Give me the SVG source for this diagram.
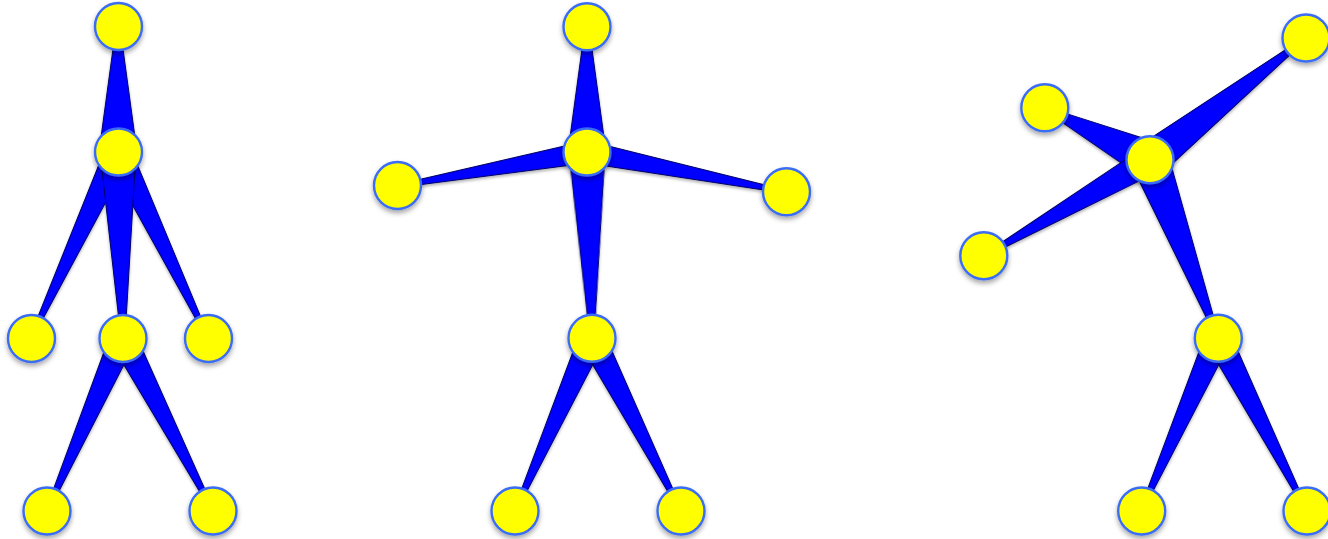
<svg xmlns="http://www.w3.org/2000/svg" width="1328" height="539" viewBox="0 0 1328 539">
<defs>
<filter id="shadow" x="-30%" y="-30%" width="160%" height="160%">
<feDropShadow dx="0" dy="3" stdDeviation="2.5" flood-color="#000" flood-opacity="0.35"/>
</filter>
<filter id="bshadow" x="-10%" y="-10%" width="120%" height="120%">
<feDropShadow dx="0" dy="2" stdDeviation="1.5" flood-color="#000" flood-opacity="0.3"/>
</filter>
</defs>
<style>
.bone{fill:#0000ff;stroke:#00006a;stroke-width:1;stroke-linejoin:round}
.node circle{fill:#ffff00;stroke:#3a6cf4;stroke-width:2.4;filter:url(#shadow)}
</style>
<rect width="1328" height="539" fill="#ffffff"/>
<g id="connectors" filter="url(#bshadow)">
<!-- figure 1 -->
<polygon class="bone" transform="translate(118,152) rotate(-90)" points="0,-19 125,-2 125,2 0,19"/>
<polygon class="bone" transform="translate(118,152) rotate(115.07)" points="0,-13 205.3,-1.5 205.3,1.5 0,13"/>
<polygon class="bone" transform="translate(118,152) rotate(64.18)" points="0,-13 206.6,-1.5 206.6,1.5 0,13"/>
<polygon class="bone" transform="translate(118,152) rotate(88.46)" points="0,-18 186.1,-2 186.1,2 0,18"/>
<polygon class="bone" transform="translate(123,338) rotate(113.71)" points="0,-13 189,-1.5 189,1.5 0,13"/>
<polygon class="bone" transform="translate(123,338) rotate(62.52)" points="0,-13 195,-1.5 195,1.5 0,13"/>
<!-- figure 2 -->
<polygon class="bone" transform="translate(587,152) rotate(-90)" points="0,-19 125,-2 125,2 0,19"/>
<polygon class="bone" transform="translate(587,152) rotate(169.8)" points="0,-11 192,-1.5 192,1.5 0,11"/>
<polygon class="bone" transform="translate(587,152) rotate(11.31)" points="0,-11 204,-1.5 204,1.5 0,11"/>
<polygon class="bone" transform="translate(587,152) rotate(88.46)" points="0,-18 186.1,-2 186.1,2 0,18"/>
<polygon class="bone" transform="translate(592,338) rotate(114.0)" points="0,-13 189.4,-1.5 189.4,1.5 0,13"/>
<polygon class="bone" transform="translate(592,338) rotate(62.77)" points="0,-13 194.6,-1.5 194.6,1.5 0,13"/>
<!-- figure 3 -->
<polygon class="bone" transform="translate(1150,160) rotate(-38.03)" points="0,-18 198,-1.5 198,1.5 0,18"/>
<polygon class="bone" transform="translate(1150,160) rotate(-153.87)" points="0,-19 118.1,-1.5 118.1,1.5 0,19"/>
<polygon class="bone" transform="translate(1150,160) rotate(149.96)" points="0,-14 191.8,-1.5 191.8,1.5 0,14"/>
<polygon class="bone" transform="translate(1150,160) rotate(69.09)" points="0,-19 190.5,-1.5 190.5,1.5 0,19"/>
<polygon class="bone" transform="translate(1218,338) rotate(114.0)" points="0,-13 189.4,-1.5 189.4,1.5 0,13"/>
<polygon class="bone" transform="translate(1218,338) rotate(62.77)" points="0,-13 194.6,-1.5 194.6,1.5 0,13"/>
</g>
<!-- figure 1 nodes -->
<g id="f1-head" class="node"><circle cx="118.5" cy="26.5" r="23.5"/></g>
<g id="f1-chest" class="node"><circle cx="118.5" cy="152" r="23.5"/></g>
<g id="f1-lhand" class="node"><circle cx="31.5" cy="338.5" r="23.5"/></g>
<g id="f1-pelvis" class="node"><circle cx="123" cy="338.5" r="23.5"/></g>
<g id="f1-rhand" class="node"><circle cx="208.5" cy="338.5" r="23.5"/></g>
<g id="f1-lfoot" class="node"><circle cx="47" cy="511" r="23.5"/></g>
<g id="f1-rfoot" class="node"><circle cx="213" cy="511" r="23.5"/></g>
<!-- figure 2 nodes -->
<g id="f2-head" class="node"><circle cx="587" cy="26.7" r="23.5"/></g>
<g id="f2-chest" class="node"><circle cx="587" cy="152" r="23.5"/></g>
<g id="f2-lhand" class="node"><circle cx="397.5" cy="185.5" r="23.5"/></g>
<g id="f2-rhand" class="node"><circle cx="786.5" cy="191.7" r="23.5"/></g>
<g id="f2-pelvis" class="node"><circle cx="592" cy="338.3" r="23.5"/></g>
<g id="f2-lfoot" class="node"><circle cx="515" cy="511" r="23.5"/></g>
<g id="f2-rfoot" class="node"><circle cx="681" cy="511" r="23.5"/></g>
<!-- figure 3 nodes -->
<g id="f3-rhand" class="node"><circle cx="1306" cy="38" r="23.5"/></g>
<g id="f3-ulhand" class="node"><circle cx="1044.8" cy="107.7" r="23.5"/></g>
<g id="f3-chest" class="node"><circle cx="1150" cy="159.8" r="23.5"/></g>
<g id="f3-llhand" class="node"><circle cx="983.8" cy="255.8" r="23.5"/></g>
<g id="f3-pelvis" class="node"><circle cx="1218.3" cy="338.3" r="23.5"/></g>
<g id="f3-lfoot" class="node"><circle cx="1141.7" cy="511" r="23.5"/></g>
<g id="f3-rfoot" class="node"><circle cx="1307" cy="511" r="23.5"/></g>
</svg>
